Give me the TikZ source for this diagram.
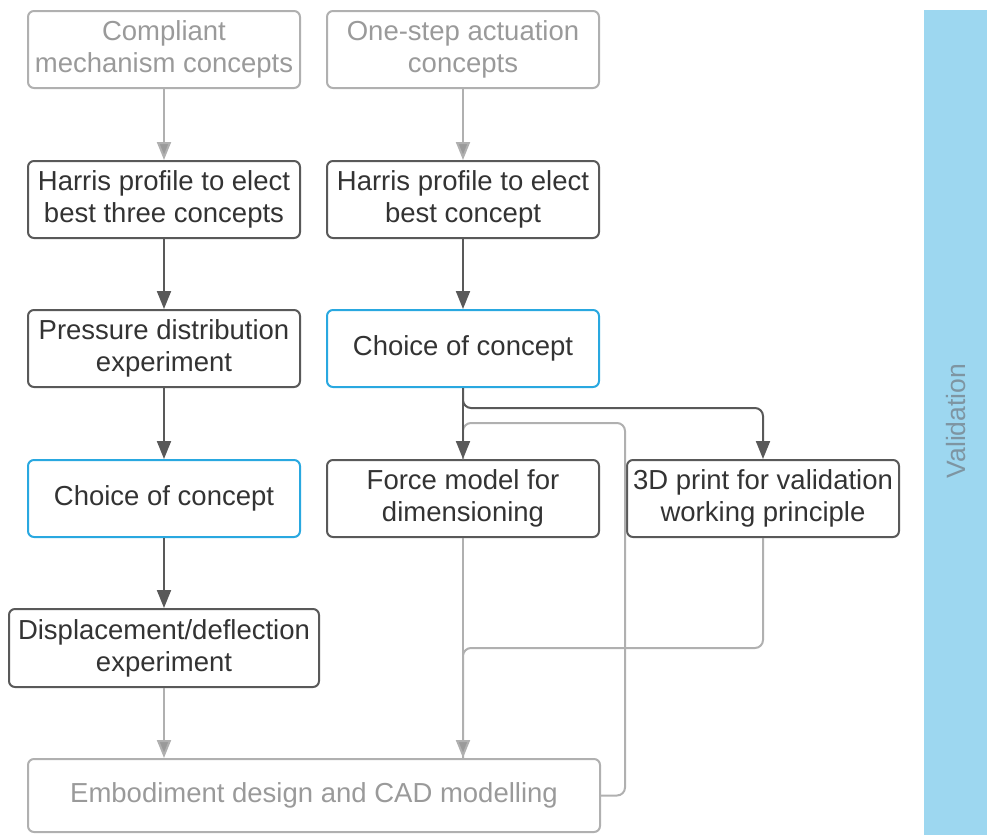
\documentclass[tikz,border=0pt]{standalone}
\usepackage{fontspec}
\setmainfont{Liberation Sans}
\usetikzlibrary{arrows.meta,calc}
\definecolor{darkline}{HTML}{595959}
\definecolor{darktext}{HTML}{333333}
\definecolor{greyline}{HTML}{B0B0B0}
\definecolor{greytext}{HTML}{9A9A9A}
\definecolor{bluel}{HTML}{29A8E0}
\definecolor{barfill}{HTML}{9DD7F0}
\definecolor{bartext}{HTML}{7E95A2}
\begin{document}
\begin{tikzpicture}[x=1pt,y=-1pt,
  box/.style={draw=darkline,line width=2pt,rounded corners=6pt,align=center,
    minimum width=272pt,minimum height=77pt,inner sep=0pt,text=darktext,
    font=\fontsize{27.5}{32}\selectfont},
  greybox/.style={box,draw=greyline,text=greytext},
  bluebox/.style={box,draw=bluel},
  darr/.style={draw=darkline,line width=2pt,-{Triangle[width=14pt,length=18pt]}},
  garr/.style={draw=greyline,line width=2pt,-{Triangle[width=14pt,length=18pt,fill=greytext]}},
  gline/.style={draw=greyline,line width=2pt,rounded corners=8pt},
  dline/.style={draw=darkline,line width=2pt,rounded corners=8pt}]
\useasboundingbox (0,0) rectangle (987,835);
\fill[barfill] (924,10) rectangle (987,835);
\node[rotate=90,text=bartext,font=\fontsize{26.5}{30}\selectfont] (val) at (956,421) {Validation};

\node[greybox] (comp) at (164,49.5) {Compliant\\mechanism concepts};
\node[greybox] (one) at (463,49.5) {One-step actuation\\concepts};
\node[box] (h1) at (164,199.5) {Harris profile to elect\\best three concepts};
\node[box] (h2) at (463,199.5) {Harris profile to elect\\best concept};
\node[box] (pres) at (164,348.5) {Pressure distribution\\experiment};
\node[bluebox] (ch2) at (463,348.5) {Choice of concept};
\node[bluebox] (ch1) at (164,498.5) {Choice of concept};
\node[box] (force) at (463,498.5) {Force model for\\dimensioning};
\node[box] (print) at (763,498.5) {3D print for validation\\working principle};
\node[box,minimum width=310pt,minimum height=78pt] (disp) at (164,648) {Displacement/deflection\\experiment};
\node[greybox,minimum width=572pt,minimum height=73pt] (emb) at (314,795.5) {Embodiment design and CAD modelling};

\coordinate (fb) at (625,423);
\coordinate (j1) at (763,408);
\coordinate (j2) at (463,648);

% feedback line (under the dark arrow)
\draw[gline] (emb.east) -| (fb) -| (force.north);

\draw[garr] (comp) -- (h1);
\draw[garr] (one) -- (h2);
\draw[darr] (h1) -- (pres);
\draw[darr] (h2) -- (ch2);
\draw[darr] (pres) -- (ch1);
\draw[darr] (ch1) -- (disp);
\draw[garr] (disp.south) -- (disp.south |- emb.north);
\draw[darr] (ch2) -- (force);
\draw[dline,-{Triangle[width=14pt,length=18pt]}] (ch2.south) |- (j1) -- (print.north);
\draw[gline] (print.south) |- (j2) -- (force.south |- emb.north);
\draw[garr] (force.south) -- (force.south |- emb.north);
\end{tikzpicture}
\end{document}
